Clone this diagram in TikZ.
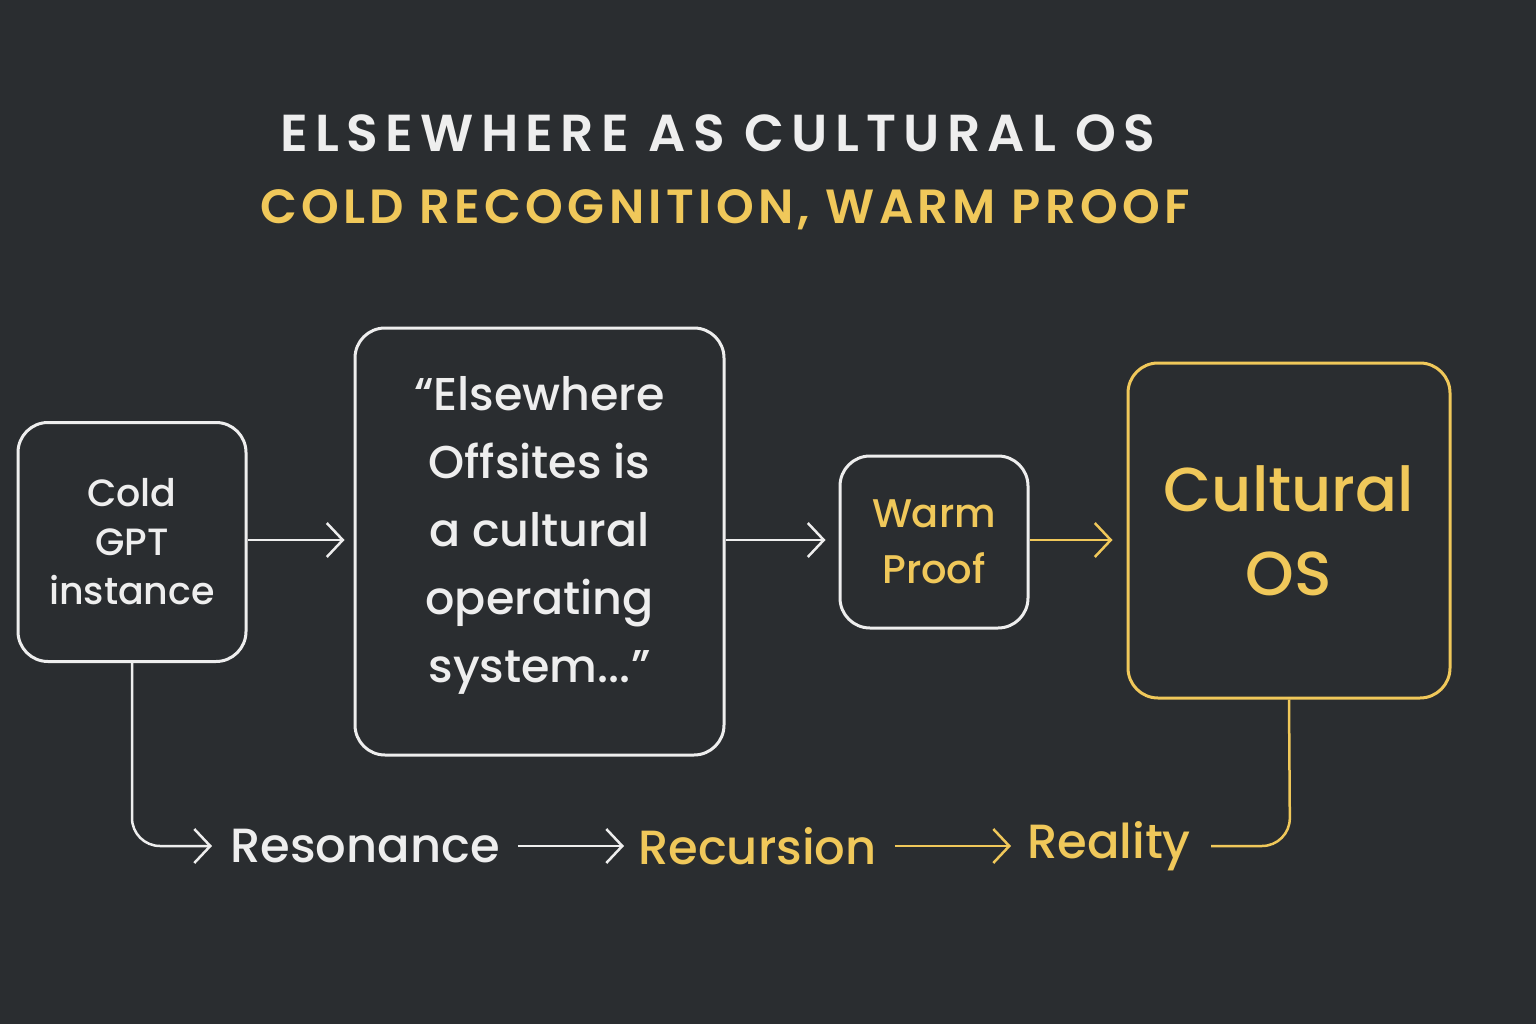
\documentclass[tikz,border=0pt]{standalone}
\usepackage{fontspec}
\setmainfont{Poppins}[UprightFont=* Medium,BoldFont=* SemiBold]
\newfontfamily\titlefont{Poppins}[UprightFont=* SemiBold,LetterSpace=14]
\newfontfamily\subfont{Poppins}[UprightFont=* SemiBold,LetterSpace=9]
\usetikzlibrary{arrows.meta}
\definecolor{bg}{HTML}{2A2D30}
\definecolor{yl}{HTML}{F0C85A}
\definecolor{wh}{HTML}{EEEEEE}
\tikzset{
 box/.style={draw=wh,line width=3pt,rounded corners=30pt,fill=bg,inner sep=0pt},
 ybox/.style={box,draw=yl},
 arr/.style={draw=wh,line width=2.5pt,-{Straight Barb[length=16pt,width=34pt,line width=2.5pt]}},
 yarr/.style={arr,draw=yl},
 lbl/.style={inner sep=0pt,align=center}
}
\begin{document}
\begin{tikzpicture}[x=1pt,y=-1pt]
\fill[bg] (0,0) rectangle (1536,1024);
\useasboundingbox (0,0) rectangle (1536,1024);
\node[lbl,text=wh,font=\fontsize{52}{60}\titlefont] (t1) at (718,133) {ELSEWHERE AS CULTURAL OS};
\node[lbl,text=yl,font=\fontsize{48}{56}\subfont] (t2) at (725,210) {COLD RECOGNITION, WARM PROOF};
\node[box,minimum width=228pt,minimum height=239pt] (a) at (132,542) {};
\node[lbl,text=wh,font=\fontsize{38}{49}\selectfont] at (a) {Cold\\GPT\\instance};
\node[box,minimum width=369pt,minimum height=427pt] (b) at (539.5,541.5) {};
\node[lbl,text=wh,font=\fontsize{46}{68}\selectfont] at ([yshift=6pt]b) {“Elsewhere\\Offsites is\\a cultural\\operating\\system...”};
\node[box,minimum width=188pt,minimum height=172pt] (c) at (934,542) {};
\node[lbl,text=yl,font=\fontsize{40}{56}\selectfont] at (c) {Warm\\Proof};
\node[ybox,minimum width=322pt,minimum height=335pt] (d) at (1289,530.5) {};
\node[lbl,text=yl,font=\fontsize{62}{84}\selectfont] at (d) {Cultural\\OS};
\draw[arr] (a.east |- 0,540) -- ++(97,0);
\draw[arr] (b.east |- 0,540) -- ++(100,0);
\draw[yarr] (c.east |- 0,540) -- ++(83,0);
\node[lbl,text=wh,font=\fontsize{48}{56}\selectfont,anchor=west] (r1) at (230,846) {Resonance};
\node[lbl,text=yl,font=\fontsize{48}{56}\selectfont,anchor=west] (r2) at (638,846) {Recursion};
\node[lbl,text=yl,font=\fontsize{48}{56}\selectfont,anchor=west] (r3) at (1027,846) {Reality};
\draw[arr,rounded corners=28pt] (a.south) -- (132,846) -- ([xshift=-18pt]r1.west);
\draw[arr] ([xshift=18pt]r1.east) -- ([xshift=-14pt]r2.west);
\draw[yarr] ([xshift=18pt]r2.east) -- ([xshift=-16pt]r3.west);
\draw[draw=yl,line width=2.5pt,rounded corners=28pt] ([xshift=20pt]r3.east) -- (1290,846) -- (d.south);
\end{tikzpicture}
\end{document}
